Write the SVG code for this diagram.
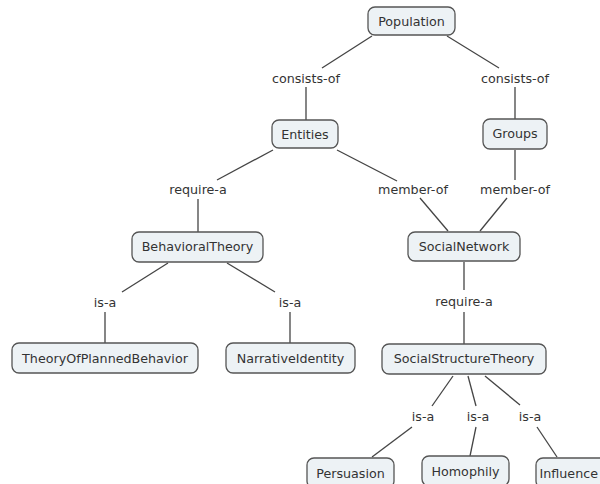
<svg xmlns="http://www.w3.org/2000/svg" width="600" height="484" viewBox="0 0 600 484">
<style>
.n rect{fill:#edf2f5;stroke:#555;stroke-width:1.3}
text{font-family:"DejaVu Sans",Verdana,sans-serif;font-size:12.7px;fill:#333;text-anchor:middle;dominant-baseline:central}
#edges line{stroke:#444;stroke-width:1.3}
</style>
<rect width="600" height="484" fill="#fff"/>
<g id="edges">
<line x1="372" y1="36" x2="322" y2="68"/>
<line x1="447" y1="36" x2="499" y2="68"/>
<line x1="306" y1="87" x2="306" y2="120"/>
<line x1="515" y1="87" x2="515" y2="119"/>
<line x1="273" y1="150" x2="217" y2="180"/>
<line x1="337" y1="150" x2="397" y2="181"/>
<line x1="515" y1="150" x2="515" y2="180"/>
<line x1="198" y1="199" x2="198" y2="232"/>
<line x1="420" y1="198" x2="448" y2="231"/>
<line x1="507" y1="198" x2="480" y2="231"/>
<line x1="168" y1="263" x2="122" y2="292"/>
<line x1="227" y1="263" x2="275" y2="292"/>
<line x1="105" y1="312" x2="105" y2="343"/>
<line x1="290" y1="312" x2="290" y2="343"/>
<line x1="464" y1="262" x2="464" y2="290"/>
<line x1="464" y1="312" x2="464" y2="344"/>
<line x1="453" y1="376" x2="432" y2="406"/>
<line x1="412" y1="427" x2="372" y2="457"/>
<line x1="468" y1="376" x2="476" y2="406"/>
<line x1="476" y1="427" x2="470" y2="456"/>
<line x1="485" y1="376" x2="520" y2="405"/>
<line x1="537" y1="427" x2="557" y2="457"/>
<text x="306" y="78">consists-of</text>
<text x="515" y="78">consists-of</text>
<text x="198" y="189">require-a</text>
<text x="413" y="189">member-of</text>
<text x="515" y="189">member-of</text>
<text x="105" y="302">is-a</text>
<text x="290" y="302">is-a</text>
<text x="464" y="301">require-a</text>
<text x="423" y="416">is-a</text>
<text x="478" y="416">is-a</text>
<text x="530" y="416">is-a</text>
</g>
<g id="Population" class="n"><rect x="368" y="7" width="87" height="28" rx="7"/><text x="411.5" y="21">Population</text></g>
<g id="Entities" class="n"><rect x="272" y="120" width="66" height="28" rx="7"/><text x="305" y="134">Entities</text></g>
<g id="Groups" class="n"><rect x="483" y="119" width="64" height="30" rx="7"/><text x="515" y="133">Groups</text></g>
<g id="BehavioralTheory" class="n"><rect x="132" y="232" width="131" height="30" rx="7"/><text x="197.5" y="246">BehavioralTheory</text></g>
<g id="SocialNetwork" class="n"><rect x="408" y="232" width="112" height="29" rx="7"/><text x="464" y="246">SocialNetwork</text></g>
<g id="TheoryOfPlannedBehavior" class="n"><rect x="12" y="343" width="186" height="30" rx="7"/><text x="105" y="358">TheoryOfPlannedBehavior</text></g>
<g id="NarrativeIdentity" class="n"><rect x="226" y="343" width="129" height="30" rx="7"/><text x="290.5" y="358">NarrativeIdentity</text></g>
<g id="SocialStructureTheory" class="n"><rect x="382" y="344" width="164" height="30" rx="7"/><text x="464" y="358">SocialStructureTheory</text></g>
<g id="Persuasion" class="n"><rect x="307" y="458" width="87" height="30" rx="7"/><text x="350.5" y="473">Persuasion</text></g>
<g id="Homophily" class="n"><rect x="422" y="456" width="87" height="30" rx="7"/><text x="465.5" y="471">Homophily</text></g>
<g id="Influence" class="n"><rect x="536" y="458" width="90" height="30" rx="7"/><text x="598" y="473" style="text-anchor:end">Influence</text></g>
</svg>
